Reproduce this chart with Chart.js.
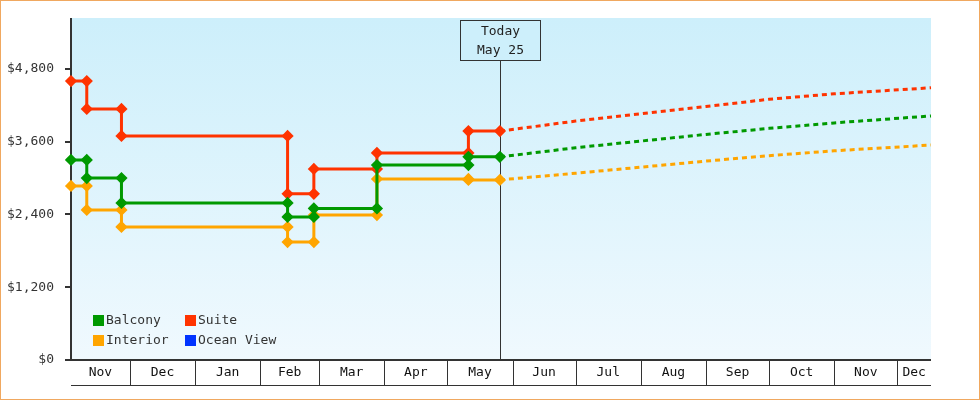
<!DOCTYPE html><html><head><meta charset="utf-8">
<script src="https://cdn.jsdelivr.net/npm/chart.js@4"></script>
<style>html,body{margin:0;padding:0;background:#fff}#w{width:980px;height:400px;position:relative}</style></head><body>
<div id="w"><canvas id="c" width="980" height="400"></canvas></div>
<script>
// x values: days since Nov 1
const changeDays = [2, 9.5, 26, 105, 117.5, 147.5, 191];
const todayDay = 206;
const todayLabel = ['Today', 'May 25'];
const balcony = [3300, 3000, 2590, 2360, 2500, 3215, 3350];
const suite = [4600, 4140, 3695, 2740, 3150, 3415, 3775];
const interior = [2870, 2475, 2195, 1945, 2390, 2985, 2970];
const forecastDays = [206, 242, 273, 304, 334, 365, 411];
const balconyFc = [3350, 3500, 3610, 3720, 3820, 3910, 4025];
const suiteFc = [3775, 3940, 4060, 4180, 4300, 4390, 4490];
const interiorFc = [2970, 3080, 3180, 3280, 3370, 3450, 3545];
const monthStarts = [-1, 30, 61, 92, 120, 151, 181, 212, 242, 273, 304, 334, 365, 395, 426];
const monthNames = ['Nov','Dec','Jan','Feb','Mar','Apr','May','Jun','Jul','Aug','Sep','Oct','Nov','Dec'];
const yTicks = [0, 1200, 2400, 3600, 4800];
const legendItems = [['Balcony','#009900'],['Suite','#ff3300'],['Interior','#ffa500'],['Ocean View','#0033ff']];

function steps(vals){const p=[];for(let i=0;i<vals.length;i++){const a=changeDays[i],b=i+1<changeDays.length?changeDays[i+1]:todayDay;p.push({x:a,y:vals[i]},{x:b,y:vals[i]});}return p;}
function fc(vals){return forecastDays.map((d,i)=>({x:d,y:vals[i]}));}
const FONT='"DejaVu Sans Mono", monospace';
function ds(data,color,dashed){return {data,clip:false,borderColor:color,backgroundColor:color,borderWidth:3,borderDash:dashed?[5,4]:[],pointStyle:'rectRot',pointRadius:dashed?0:4,pointHoverRadius:0,tension:0};}
const deco={id:'deco',
beforeDraw(ch){const {ctx,chartArea:a}=ch;ctx.save();const g=ctx.createLinearGradient(0,a.top,0,a.bottom);g.addColorStop(0,'#cdeffb');g.addColorStop(1,'#f0f9fe');ctx.fillStyle=g;ctx.fillRect(a.left,a.top,a.right-a.left,a.bottom-a.top);ctx.restore();},
beforeDatasetsDraw(ch){const {ctx,chartArea:a,scales:{x,y}}=ch;ctx.save();ctx.strokeStyle='#333';
ctx.lineWidth=2;ctx.beginPath();ctx.moveTo(a.left,a.top);ctx.lineTo(a.left,a.bottom);ctx.stroke();
yTicks.forEach(v=>{const py=Math.round(y.getPixelForValue(v));ctx.beginPath();ctx.moveTo(a.left-6,py);ctx.lineTo(a.left,py);ctx.stroke();});
ctx.beginPath();ctx.moveTo(a.left-1,a.bottom);ctx.lineTo(a.right,a.bottom);ctx.stroke();
ctx.lineWidth=1;const tx=Math.round(x.getPixelForValue(todayDay))+.5;ctx.beginPath();ctx.moveTo(tx,60);ctx.lineTo(tx,a.bottom);ctx.stroke();ctx.restore();},
afterDraw(ch){const {ctx,chartArea:a,scales:{x}}=ch;ctx.save();ctx.strokeStyle='#333';
ctx.lineWidth=1;ctx.beginPath();ctx.moveTo(a.left,385.5);ctx.lineTo(a.right,385.5);ctx.stroke();
ctx.font='13px '+FONT;ctx.fillStyle='#111';ctx.textAlign='center';ctx.textBaseline='middle';
for(let i=0;i<monthNames.length;i++){let l=Math.max(a.left,x.getPixelForValue(monthStarts[i]));let r=Math.min(a.right,x.getPixelForValue(monthStarts[i+1]));if(r<=l)continue;
if(i>0){ctx.beginPath();ctx.moveTo(Math.round(l)+.5,a.bottom);ctx.lineTo(Math.round(l)+.5,385);ctx.stroke();}
ctx.fillText(monthNames[i],(l+r)/2,373);}
const tx=Math.round(x.getPixelForValue(todayDay))+.5;
ctx.fillStyle='#cdeffb';ctx.fillRect(tx-40,20,80,40);ctx.strokeRect(tx-40,20.5,80,40);ctx.fillStyle='#222';
ctx.fillText(todayLabel[0],tx,32);ctx.fillText(todayLabel[1],tx,51);
ctx.textAlign='left';legendItems.forEach((it,i)=>{const cx=a.left+22+(i%2)*92,cy=320+(i>>1)*20;ctx.fillStyle=it[1];ctx.fillRect(cx,cy-5,11,11);ctx.fillStyle='#333';ctx.fillText(it[0],cx+13,cy+1);});
ctx.strokeStyle='#f0a860';ctx.strokeRect(.5,.5,979,399);ctx.restore();}};
new Chart(document.getElementById('c'),{type:'line',
data:{datasets:[ds(steps(balcony),'#009900'),ds(steps(suite),'#ff3300'),ds(steps(interior),'#ffa500'),ds(fc(balconyFc),'#009900',true),ds(fc(suiteFc),'#ff3300',true),ds(fc(interiorFc),'#ffa500',true),ds([],'#0033ff')]},
options:{responsive:false,animation:false,events:[],layout:{padding:{left:0,right:49,top:18,bottom:40}},
plugins:{legend:{display:false},tooltip:{enabled:false}},
scales:{x:{type:'linear',min:2,max:411,display:false},
y:{min:0,max:5640,afterFit(s){s.width=71;},afterBuildTicks(s){s.ticks=yTicks.map(v=>({value:v}));},
grid:{display:false},border:{display:false},
ticks:{color:'#333',padding:9,font:{family:FONT,size:13},callback:v=>'$'+v.toLocaleString('en-US')}}}},
plugins:[deco]});
</script></body></html>
